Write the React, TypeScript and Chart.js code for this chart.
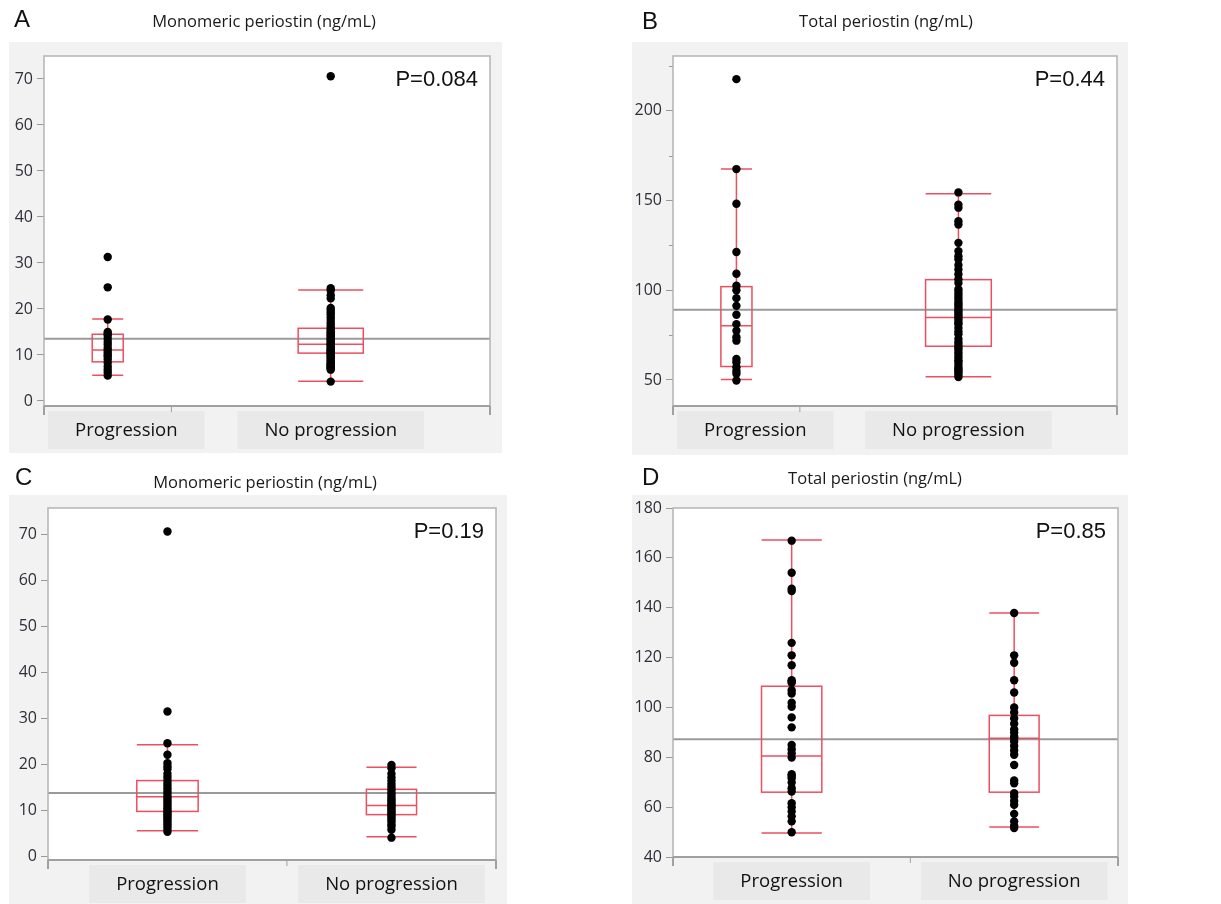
import React, { useEffect, useRef } from 'react';
import { Chart, registerables } from 'chart.js';

Chart.register(...registerables);

// ---------- DATA ----------
const CATEGORIES = ['Progression', 'No progression'];
const LETTERS = ['A', 'B', 'C', 'D'];
const TITLES = [
  'Monomeric periostin (ng/mL)',
  'Total periostin (ng/mL)',
  'Monomeric periostin (ng/mL)',
  'Total periostin (ng/mL)',
];
const P_VALUES = ['P=0.084', 'P=0.44', 'P=0.19', 'P=0.85'];
const GRAND_MEANS = [13.5, 89.1, 13.8, 87.2];

// Panel A: monomeric periostin
const A_PROG = [31.3, 24.7, 17.7, 15.0, 14.6, 14.2, 13.5, 12.8, 12.2, 11.5, 11.0, 10.5, 10.0, 9.6, 9.0, 8.3, 7.5, 6.8, 6.2, 5.5];
const A_NOPROG = [70.6, 24.5, 24.0, 23.0, 22.3, 20.2, 19.8, 19.3, 18.8, 18.2, 17.6, 17.0, 16.5, 16.0, 15.6, 15.2, 14.9, 14.6, 14.3, 14.0, 13.7, 13.4, 13.1, 12.8, 12.5, 12.3, 12.1, 11.8, 11.5, 11.2, 11.0, 10.8, 10.6, 10.4, 10.2, 10.0, 9.7, 9.4, 9.1, 8.8, 8.5, 8.2, 8.0, 7.8, 7.6, 7.4, 7.2, 7.0, 6.8, 4.2];
// [low whisker, Q1, median, Q3, high whisker]
const A_PROG_BOX = [5.6, 8.5, 11.1, 14.5, 17.8];
const A_NOPROG_BOX = [4.3, 10.4, 12.3, 15.8, 24.1];
const A_Y_TICKS = [0, 10, 20, 30, 40, 50, 60, 70];

// Panel B: total periostin
const B_PROG = [217.6, 167.5, 148.2, 121.3, 109.2, 102.5, 100.0, 95.6, 91.3, 86.3, 81.1, 77.4, 73.8, 71.9, 61.7, 59.9, 57.1, 55.0, 53.5, 49.7];
const B_NOPROG = [154.5, 147.7, 146.0, 138.4, 136.6, 126.4, 121.8, 119.0, 117.2, 114.0, 111.6, 108.9, 106.1, 104.0, 100.5, 99.0, 97.5, 96.0, 94.5, 93.0, 92.0, 90.8, 89.5, 88.3, 87.0, 85.8, 84.8, 83.5, 82.2, 81.0, 79.0, 77.0, 75.5, 72.8, 71.0, 69.5, 68.2, 67.0, 65.4, 64.0, 62.5, 61.0, 60.0, 58.5, 57.0, 56.0, 55.0, 54.0, 52.8, 51.6];
const B_PROG_BOX = [50.3, 57.5, 80.2, 102.0, 167.5];
const B_NOPROG_BOX = [51.8, 68.8, 84.8, 105.9, 153.8];
const B_Y_TICKS = [50, 100, 150, 200];
const B_Y_MINOR = [75, 125, 175, 225];

// Panel C: monomeric periostin
const C_PROG = [70.6, 31.5, 24.6, 22.1, 20.3, 19.6, 19.0, 18.0, 17.3, 16.6, 16.0, 15.4, 14.8, 14.2, 13.6, 13.0, 12.5, 12.0, 11.5, 11.0, 10.5, 10.0, 9.6, 9.2, 8.8, 8.4, 8.0, 7.5, 7.0, 6.5, 6.0, 5.4];
const C_NOPROG = [19.9, 19.2, 18.0, 17.2, 16.5, 15.8, 15.2, 14.6, 14.0, 13.5, 13.0, 12.5, 12.1, 11.7, 11.3, 11.0, 10.6, 10.2, 9.8, 9.4, 9.0, 8.6, 8.1, 7.6, 7.0, 6.5, 5.8, 4.1];
const C_PROG_BOX = [5.6, 9.8, 13.0, 16.5, 24.3];
const C_NOPROG_BOX = [4.3, 9.1, 11.1, 14.6, 19.4];
const C_Y_TICKS = [0, 10, 20, 30, 40, 50, 60, 70];

// Panel D: total periostin
const D_PROG = [166.9, 154.0, 147.6, 146.7, 125.9, 120.9, 116.9, 110.9, 110.3, 109.9, 106.9, 105.6, 101.9, 100.3, 96.0, 92.0, 84.9, 83.2, 81.6, 79.9, 73.2, 72.5, 71.6, 69.9, 67.6, 66.3, 61.6, 60.0, 58.3, 56.3, 54.3, 49.9];
const D_NOPROG = [137.9, 120.9, 117.9, 110.9, 106.0, 100.0, 98.0, 95.6, 93.5, 91.2, 89.9, 88.3, 87.5, 86.3, 84.5, 82.7, 81.0, 76.9, 70.7, 69.6, 65.6, 64.3, 62.5, 60.9, 57.3, 54.3, 52.5, 51.6];
const D_PROG_BOX = [49.6, 66.0, 80.5, 108.5, 167.2];
const D_NOPROG_BOX = [52.0, 66.0, 87.6, 96.8, 137.9];
const D_Y_TICKS = [40, 60, 80, 100, 120, 140, 160, 180];

const SERIES = [
  [A_PROG, A_NOPROG],
  [B_PROG, B_NOPROG],
  [C_PROG, C_NOPROG],
  [D_PROG, D_NOPROG],
];
const BOXES = [
  [A_PROG_BOX, A_NOPROG_BOX],
  [B_PROG_BOX, B_NOPROG_BOX],
  [C_PROG_BOX, C_NOPROG_BOX],
  [D_PROG_BOX, D_NOPROG_BOX],
];
const Y_TICKS = [A_Y_TICKS, B_Y_TICKS, C_Y_TICKS, D_Y_TICKS];
const Y_MINOR: number[][] = [[], B_Y_MINOR, [], []];

// ---------- LAYOUT / STYLE ----------
type Layout = {
  left: number; top: number; w: number; h: number;
  bg: [number, number, number, number];
  plot: [number, number, number, number];
  yMin: number; yMax: number;
  letterX: number; letterY: number;
  titleX: number; titleY: number;
  boxW: [number, number];
};

const LAYOUT: Layout[] = [
  { left: 0, top: 0, w: 610, h: 460, bg: [9, 42, 493, 411], plot: [44, 56, 490, 406], yMin: -1.1, yMax: 75, letterX: 14, letterY: 20, titleX: 264, titleY: 22, boxW: [0.0695, 0.146] },
  { left: 610, top: 0, w: 611, h: 460, bg: [22, 42, 496, 413], plot: [63, 56, 507, 406], yMin: 35.5, yMax: 230.5, letterX: 32, letterY: 22, titleX: 276, titleY: 22, boxW: [0.07, 0.148] },
  { left: 0, top: 460, w: 610, h: 444, bg: [9, 35, 498, 409], plot: [48, 48, 496, 400], yMin: -0.75, yMax: 75.7, letterX: 15, letterY: 18, titleX: 265, titleY: 23, boxW: [0.137, 0.112] },
  { left: 610, top: 460, w: 611, h: 444, bg: [22, 35, 496, 409], plot: [63, 48, 508, 397], yMin: 40, yMax: 180, letterX: 32, letterY: 18, titleX: 265, titleY: 19, boxW: [0.1355, 0.112] },
];

const BOX_RED = '#ec4f61';
const SANS = '"Open Sans", "Noto Sans", sans-serif';
const ARIAL = '"Liberation Sans", Arial, sans-serif';

const panelPlugin = {
  id: 'panel',
  beforeDraw(chart: any, _a: any, opts: any) {
    const { ctx, chartArea: ca } = chart;
    const L: Layout = opts.layout;
    ctx.save();
    ctx.fillStyle = '#f2f2f2';
    ctx.fillRect(L.bg[0], L.bg[1], L.bg[2], L.bg[3]);
    ctx.fillStyle = '#ffffff';
    ctx.fillRect(ca.left, ca.top, ca.right - ca.left, ca.bottom - ca.top);

    // letter
    ctx.fillStyle = '#111';
    ctx.font = `24px ${ARIAL}`;
    ctx.textAlign = 'left';
    ctx.textBaseline = 'middle';
    ctx.fillText(opts.letter, L.letterX, L.letterY);
    // title
    ctx.font = `16.5px ${SANS}`;
    ctx.textAlign = 'center';
    ctx.fillStyle = '#1a1a1a';
    ctx.fillText(opts.title, L.titleX, L.titleY);

    // category label boxes
    const xs = chart.scales.x;
    ctx.font = `18.5px ${SANS}`;
    opts.centers.forEach((c: number, i: number) => {
      const label = CATEGORIES[i];
      const tw = ctx.measureText(label).width;
      const bw = tw + 54;
      let cx = xs.getPixelForValue(c);
      if (cx - bw / 2 < ca.left + 4) cx = ca.left + 4 + bw / 2;
      ctx.fillStyle = '#e9e9e9';
      ctx.fillRect(cx - bw / 2, ca.bottom + 5, bw, 38);
      ctx.fillStyle = '#111';
      ctx.textAlign = 'center';
      ctx.textBaseline = 'middle';
      ctx.fillText(label, cx, ca.bottom + 25);
    });
    ctx.restore();
  },
  beforeDatasetsDraw(chart: any, _a: any, opts: any) {
    const { ctx, chartArea: ca } = chart;
    const xs = chart.scales.x;
    const ys = chart.scales.y;
    const L: Layout = opts.layout;
    ctx.save();
    // minor ticks
    ctx.strokeStyle = '#999';
    ctx.lineWidth = 1;
    (opts.minor as number[]).forEach((v) => {
      const y = Math.round(ys.getPixelForValue(v)) + 0.5;
      ctx.beginPath();
      ctx.moveTo(ca.left - 4, y);
      ctx.lineTo(ca.left, y);
      ctx.stroke();
    });
    // grand mean line
    const my = ys.getPixelForValue(opts.mean);
    ctx.strokeStyle = '#9a9a9a';
    ctx.lineWidth = 2;
    ctx.beginPath();
    ctx.moveTo(ca.left, my);
    ctx.lineTo(ca.right, my);
    ctx.stroke();
    // box plots
    ctx.strokeStyle = BOX_RED;
    ctx.lineWidth = 1.5;
    opts.centers.forEach((c: number, i: number) => {
      const [lo, q1, med, q3, hi] = opts.boxes[i];
      const hw = L.boxW[i] / 2;
      const x0 = xs.getPixelForValue(c - hw);
      const x1 = xs.getPixelForValue(c + hw);
      const xc = xs.getPixelForValue(c);
      const yLo = ys.getPixelForValue(lo);
      const yQ1 = ys.getPixelForValue(q1);
      const yMed = ys.getPixelForValue(med);
      const yQ3 = ys.getPixelForValue(q3);
      const yHi = ys.getPixelForValue(hi);
      ctx.strokeRect(x0, yQ3, x1 - x0, yQ1 - yQ3);
      ctx.beginPath();
      ctx.moveTo(x0, yMed); ctx.lineTo(x1, yMed);
      ctx.moveTo(xc, yQ3); ctx.lineTo(xc, yHi);
      ctx.moveTo(xc, yQ1); ctx.lineTo(xc, yLo);
      ctx.moveTo(x0, yHi); ctx.lineTo(x1, yHi);
      ctx.moveTo(x0, yLo); ctx.lineTo(x1, yLo);
      ctx.stroke();
    });
    ctx.restore();
  },
  afterDraw(chart: any, _a: any, opts: any) {
    const { ctx, chartArea: ca } = chart;
    const xs = chart.scales.x;
    ctx.save();
    // plot frame
    ctx.strokeStyle = '#b4b4b4';
    ctx.lineWidth = 1.5;
    ctx.strokeRect(ca.left, ca.top, ca.right - ca.left, ca.bottom - ca.top);
    // bottom axis
    ctx.strokeStyle = '#a0a0a0';
    ctx.lineWidth = 2;
    ctx.beginPath();
    ctx.moveTo(ca.left, ca.bottom);
    ctx.lineTo(ca.right, ca.bottom);
    ctx.moveTo(ca.left, ca.bottom);
    ctx.lineTo(ca.left, ca.bottom + 9);
    ctx.moveTo(ca.right, ca.bottom);
    ctx.lineTo(ca.right, ca.bottom + 9);
    ctx.stroke();
    ctx.lineWidth = 1;
    const dx = xs.getPixelForValue(opts.split);
    ctx.beginPath();
    ctx.moveTo(dx, ca.bottom);
    ctx.lineTo(dx, ca.bottom + 6);
    ctx.stroke();
    // p value
    ctx.fillStyle = '#111';
    ctx.font = `22px ${ARIAL}`;
    ctx.textAlign = 'right';
    ctx.textBaseline = 'middle';
    ctx.fillText(opts.p, ca.right - 12, ca.top + 24);
    ctx.restore();
  },
};

function Panel({ idx }: { idx: number }) {
  const ref = useRef<HTMLCanvasElement>(null);
  const L = LAYOUT[idx];
  useEffect(() => {
    const [prog, noprog] = SERIES[idx];
    const f = prog.length / (prog.length + noprog.length);
    const centers = [f / 2, f + (1 - f) / 2];
    const ticks = Y_TICKS[idx];
    const chart = new Chart(ref.current as HTMLCanvasElement, {
      type: 'scatter',
      data: {
        datasets: [prog, noprog].map((vals, i) => ({
          label: CATEGORIES[i],
          data: vals.map((v) => ({ x: centers[i], y: v })),
          pointRadius: 4.2,
          pointBackgroundColor: '#000',
          pointBorderWidth: 0,
          borderColor: '#000',
        })),
      },
      options: {
        animation: false,
        responsive: false,
        events: [],
        layout: {
          padding: { left: 0, top: L.plot[1], right: L.w - L.plot[2], bottom: L.h - L.plot[3] },
        },
        plugins: {
          legend: { display: false },
          tooltip: { enabled: false },
          panel: {
            layout: L,
            letter: LETTERS[idx],
            title: TITLES[idx],
            p: P_VALUES[idx],
            mean: GRAND_MEANS[idx],
            boxes: BOXES[idx],
            minor: Y_MINOR[idx],
            centers,
            split: f,
          },
        } as any,
        scales: {
          x: { type: 'linear', min: 0, max: 1, display: false },
          y: {
            type: 'linear',
            min: L.yMin,
            max: L.yMax,
            afterFit: (s: any) => { s.width = L.plot[0]; },
            afterBuildTicks: (s: any) => { s.ticks = ticks.map((v) => ({ value: v })); },
            ticks: {
              autoSkip: false,
              padding: 4,
              color: '#2e2e38',
              font: { family: SANS, size: 16 },
            },
            grid: { drawOnChartArea: false, drawTicks: true, tickLength: 7, color: '#999' },
            border: { display: false },
          },
        },
      },
      plugins: [panelPlugin],
    });
    return () => chart.destroy();
  }, [idx]);
  return (
    <canvas
      ref={ref}
      width={L.w}
      height={L.h}
      style={{ position: 'absolute', left: L.left, top: L.top, width: L.w, height: L.h }}
    />
  );
}

export default function App() {
  return (
    <div style={{ position: 'absolute', left: 0, top: 0, width: 1221, height: 904, background: '#fff', overflow: 'hidden' }}>
      {[0, 1, 2, 3].map((i) => (
        <Panel key={i} idx={i} />
      ))}
    </div>
  );
}
